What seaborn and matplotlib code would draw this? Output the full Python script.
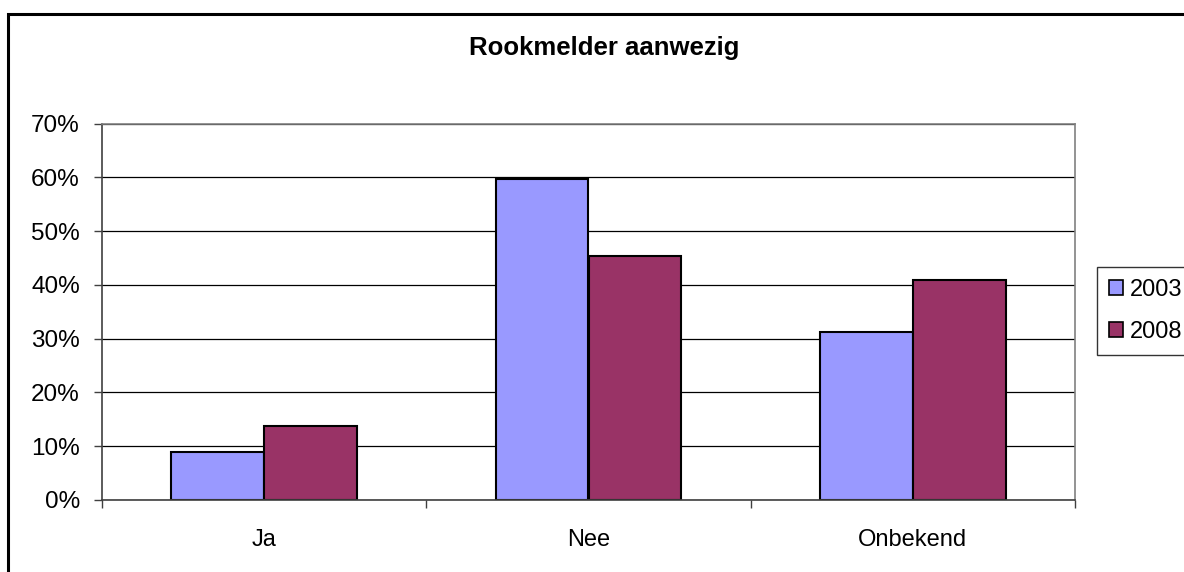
import pandas as pd
import matplotlib
matplotlib.use("Agg")
import matplotlib.pyplot as plt
import seaborn as sns
from matplotlib.patches import Rectangle
from matplotlib.ticker import FuncFormatter, MultipleLocator

categories = ["Ja", "Nee", "Onbekend"]
years = ["2003", "2008"]
values_2003 = [9.0, 59.8, 31.2]
values_2008 = [13.7, 45.3, 40.9]

df = pd.DataFrame({
    "categorie": categories * 2,
    "jaar": [years[0]] * 3 + [years[1]] * 3,
    "percentage": values_2003 + values_2008,
})

sns.set_style("white")
plt.rcParams["font.family"] = ["Liberation Sans", "DejaVu Sans"]
plt.rcParams["text.color"] = "black"
plt.rcParams["xtick.color"] = "black"
plt.rcParams["ytick.color"] = "black"

fig = plt.figure(figsize=(11.84, 5.72), dpi=100)
ax = fig.add_axes([102 / 1184, 72 / 572, 973 / 1184, 376.3 / 572])

sns.barplot(
    data=df,
    x="categorie",
    y="percentage",
    hue="jaar",
    palette=["#9999FF", "#993366"],
    saturation=1,
    width=0.572,
    edgecolor="black",
    linewidth=1.5,
    ax=ax,
)

ax.set_xlim(-0.5, 2.5)
ax.set_ylim(0, 70)
ax.yaxis.set_major_locator(MultipleLocator(10))
ax.yaxis.set_major_formatter(FuncFormatter(lambda v, p: f"{v:.0f}%"))
ax.grid(axis="y", color="black", linewidth=0.9)
ax.set_axisbelow(True)
ax.set_xlabel("")
ax.set_ylabel("")

# category boundary ticks on x-axis
ax.set_xticks([-0.5, 0.5, 1.5, 2.5])
ax.set_xticklabels([])
ax.set_xticks([0, 1, 2], minor=True)
ax.set_xticklabels(categories, minor=True)
ax.tick_params(axis="x", which="major", direction="out", length=6, width=1,
               color="#404040", bottom=True)
ax.tick_params(axis="x", which="minor", length=0, pad=21, labelsize=17)
ax.tick_params(axis="y", direction="out", length=6, width=1, color="#404040",
               left=True, pad=10, labelsize=17.5)

for side in ["top", "right"]:
    ax.spines[side].set_color("#808080")
    ax.spines[side].set_linewidth(1.2)
for side in ["left", "bottom"]:
    ax.spines[side].set_color("#404040")
    ax.spines[side].set_linewidth(1.2)

leg = ax.legend(
    loc="center left",
    bbox_to_anchor=(1097 / 1184, 1 - 311 / 572),
    bbox_transform=fig.transFigure,
    fontsize=17,
    frameon=True,
    fancybox=False,
    edgecolor="black",
    handlelength=0.6,
    handleheight=0.6,
    handletextpad=0.3,
    borderpad=0.5,
    labelspacing=0.85,
    borderaxespad=0,
)
leg.get_frame().set_linewidth(1.0)
for h in leg.legend_handles:
    h.set_linewidth(1.2)

fig.text(604 / 1184, 1 - 48 / 572, "Rookmelder aanwezig",
         ha="center", va="center", fontsize=18.5, fontweight="bold")

fig.add_artist(Rectangle((8 / 1184, -0.1), 1.2, 0.1 + 1 - 14 / 572,
                         transform=fig.transFigure, fill=False,
                         edgecolor="black", linewidth=2.2, clip_on=False))

fig.savefig("out.png", dpi=100)
